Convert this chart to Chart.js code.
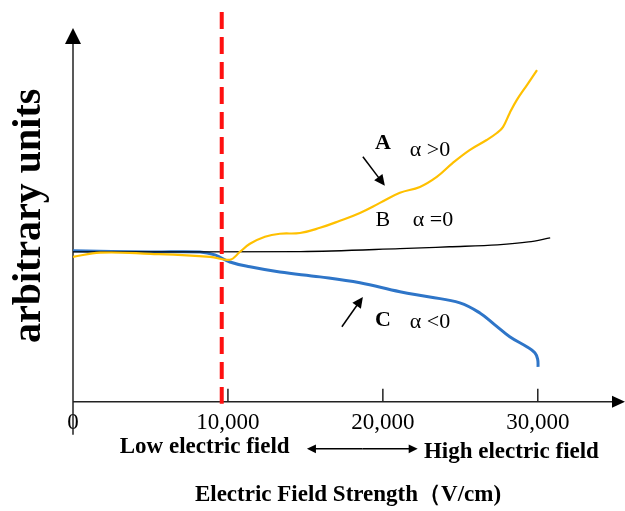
<!DOCTYPE html>
<html>
<head>
<meta charset="utf-8">
<script src="https://cdn.jsdelivr.net/npm/chart.js@4.4.1/dist/chart.umd.min.js"></script>
<style>
  html, body { margin: 0; padding: 0; background: #fff; }
  #wrap { width: 625px; height: 511px; }
</style>
</head>
<body>
<div id="wrap"><canvas id="fieldChart"></canvas></div>
<script>
// curve A (alpha > 0), yellow
const fieldA = [0, 1750, 5000, 8850, 10130, 10770, 11420, 12390, 13350, 14650, 15940, 17230, 18520, 19810, 21100, 22390, 23480, 24500, 25600, 26700, 27360, 27750, 28190, 28650, 29300, 29950];
const valuesA = [39.0, 40.1, 39.8, 39.0, 38.2, 40.3, 42.5, 44.4, 45.2, 45.4, 46.8, 48.7, 50.8, 53.5, 56.2, 57.8, 60.5, 64.2, 67.7, 70.4, 72.3, 73.9, 77.7, 81.2, 85.2, 89.2];

// curve B (alpha = 0), black
const fieldB = [0, 8200, 14700, 21100, 24300, 27400, 29400, 30800];
const valuesB = [40.3, 40.3, 40.4, 41.2, 41.7, 42.2, 43.0, 44.1];

// curve C (alpha < 0), blue
const fieldC = [0, 5000, 8200, 9160, 10130, 11420, 13350, 15940, 18520, 21100, 23030, 24970, 26260, 27230, 28190, 29290, 29810, 29990, 30020];
const valuesC = [40.6, 40.3, 40.3, 39.5, 37.6, 36.3, 34.9, 33.6, 32.0, 29.6, 28.2, 26.6, 23.9, 20.7, 17.5, 14.8, 13.2, 11.5, 9.4];

const tickValues = [0, 10000, 20000, 30000];
const tickLabels = ["0", "10,000", "20,000", "30,000"];
const thresholdField = 9600; // red dashed line, low / high field boundary

const serif = "'Liberation Serif', 'Times New Roman', serif";

const toPoints = (xs, ys) => xs.map((x, i) => ({ x: x, y: ys[i] }));

//# arrow helper, filled head at (x2, y2)
function drawArrow(ctx, x1, y1, x2, y2, head, width) {
  const ang = Math.atan2(y2 - y1, x2 - x1);
  ctx.beginPath();
  ctx.moveTo(x1, y1);
  ctx.lineTo(x2 - Math.cos(ang) * head * 0.8, y2 - Math.sin(ang) * head * 0.8);
  ctx.lineWidth = width;
  ctx.stroke();
  ctx.beginPath();
  ctx.moveTo(x2, y2);
  ctx.lineTo(x2 - head * Math.cos(ang - 0.45), y2 - head * Math.sin(ang - 0.45));
  ctx.lineTo(x2 - head * Math.cos(ang + 0.45), y2 - head * Math.sin(ang + 0.45));
  ctx.closePath();
  ctx.fill();
}

//# axes with arrows, tick marks, threshold line and annotations
const decorations = {
  id: "decorations",
  beforeDatasetsDraw(chart) {
    const { ctx, chartArea: a, scales: { x } } = chart;
    ctx.save();
    ctx.strokeStyle = "#222";
    ctx.fillStyle = "#000";
    ctx.lineWidth = 1.5;
    // y axis
    ctx.beginPath();
    ctx.moveTo(a.left, a.top + 10);
    ctx.lineTo(a.left, a.bottom + 33);
    ctx.stroke();
    ctx.beginPath();
    ctx.moveTo(a.left, a.top - 2);
    ctx.lineTo(a.left - 8, a.top + 14);
    ctx.lineTo(a.left + 8, a.top + 14);
    ctx.closePath();
    ctx.fill();
    // x axis
    ctx.beginPath();
    ctx.moveTo(a.left, a.bottom);
    ctx.lineTo(a.right - 8, a.bottom);
    ctx.stroke();
    ctx.beginPath();
    ctx.moveTo(a.right + 2, a.bottom);
    ctx.lineTo(a.right - 11, a.bottom - 6);
    ctx.lineTo(a.right - 11, a.bottom + 6);
    ctx.closePath();
    ctx.fill();
    // tick marks pointing up
    tickValues.slice(1).forEach((v) => {
      const px = x.getPixelForValue(v);
      ctx.beginPath();
      ctx.moveTo(px, a.bottom);
      ctx.lineTo(px, a.bottom - 13);
      ctx.stroke();
    });
    ctx.restore();
  },
  afterDatasetsDraw(chart) {
    const { ctx, chartArea: a, scales: { x, y } } = chart;
    ctx.save();
    // red dashed threshold
    const rx = x.getPixelForValue(thresholdField);
    ctx.strokeStyle = "#ff1010";
    ctx.lineWidth = 4;
    ctx.setLineDash([17, 8]);
    ctx.beginPath();
    ctx.moveTo(rx, 12);
    ctx.lineTo(rx, a.bottom + 2);
    ctx.stroke();
    ctx.setLineDash([]);

    // curve labels
    ctx.fillStyle = "#000";
    ctx.strokeStyle = "#000";
    ctx.textBaseline = "middle";
    const label = (txt, fx, fy, bold, align) => {
      ctx.font = (bold ? "bold " : "") + "22px " + serif;
      ctx.textAlign = align;
      ctx.fillText(txt, x.getPixelForValue(fx), y.getPixelForValue(fy));
    };
    label("A", 20000, 69.6, true, "center");
    label("\u03b1 >0", 21742, 67.7, false, "left");
    label("B", 20000, 48.9, false, "center");
    label("\u03b1 =0", 21935, 48.9, false, "left");
    label("C", 20000, 21.8, true, "center");
    label("\u03b1 <0", 21742, 21.5, false, "left");

    drawArrow(ctx, x.getPixelForValue(18710), y.getPixelForValue(65.9),
      x.getPixelForValue(20129), y.getPixelForValue(58.1), 12, 1.5);
    drawArrow(ctx, x.getPixelForValue(17355), y.getPixelForValue(20.2),
      x.getPixelForValue(18710), y.getPixelForValue(28.2), 12, 1.5);

    // low / high field row under the axis
    ctx.font = "bold 23px " + serif;
    ctx.textAlign = "center";
    ctx.fillText("Low electric field", x.getPixelForValue(8500), a.bottom + 45);
    ctx.textAlign = "left";
    ctx.fillText("High electric field", x.getPixelForValue(22650), a.bottom + 50);
    const lx = x.getPixelForValue(15100);
    const hx = x.getPixelForValue(22250);
    const ay = a.bottom + 47;
    ctx.lineWidth = 1.5;
    drawArrow(ctx, (lx + hx) / 2, ay, hx, ay, 10, 1.5);
    drawArrow(ctx, (lx + hx) / 2, ay, lx, ay, 10, 1.5);
    ctx.restore();
  },
};

const config = {
  type: "line",
  data: {
    datasets: [
      {
        label: "A",
        data: toPoints(fieldA, valuesA),
        borderColor: "#FFC000",
        borderWidth: 2.2,
        tension: 0.4,
        pointRadius: 0,
      },
      {
        label: "B",
        data: toPoints(fieldB, valuesB),
        borderColor: "#000000",
        borderWidth: 1.3,
        cubicInterpolationMode: "monotone",
        pointRadius: 0,
      },
      {
        label: "C",
        data: toPoints(fieldC, valuesC),
        borderColor: "#2E75C8",
        borderWidth: 3,
        tension: 0.4,
        pointRadius: 0,
      },
    ],
  },
  options: {
    responsive: true,
    maintainAspectRatio: false,
    animation: false,
    layout: { padding: { top: 30, right: 2, left: 0, bottom: 0 } },
    plugins: {
      legend: { display: false },
      tooltip: { enabled: false },
    },
    scales: {
      x: {
        type: "linear",
        min: 0,
        max: 35500,
        grid: { display: false, drawTicks: false },
        border: { display: false },
        afterBuildTicks: (scale) => {
          scale.ticks = tickValues.map((v) => ({ value: v }));
        },
        ticks: {
          padding: 7,
          color: "#000",
          maxRotation: 0,
          font: { family: serif, size: 23 },
          callback: (value) => tickLabels[tickValues.indexOf(value)],
        },
        title: {
          display: true,
          text: "Electric Field Strength\uff08V/cm)",
          color: "#000",
          font: { family: serif, size: 23, weight: "bold" },
          padding: { top: 38, bottom: 2 },
        },
      },
      y: {
        min: 0,
        max: 100,
        grid: { display: false, drawTicks: false },
        border: { display: false },
        ticks: { display: false },
        title: {
          display: true,
          text: "arbitrary units",
          color: "#000",
          font: { family: serif, size: 40, weight: "bold" },
          padding: { top: 6, bottom: 19 },
        },
      },
    },
  },
  plugins: [decorations],
};

const ctx = document.getElementById("fieldChart").getContext("2d");
new Chart(ctx, config);
</script>
</body>
</html>
